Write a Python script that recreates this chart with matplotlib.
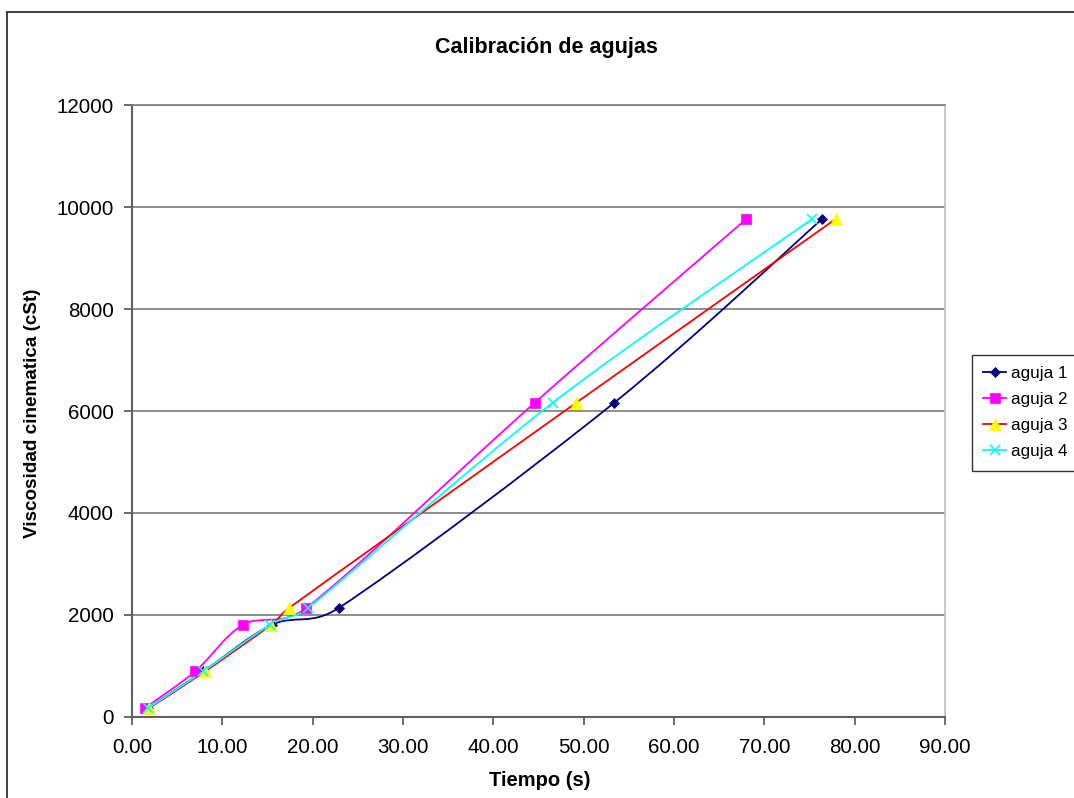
import matplotlib.pyplot as plt
import numpy as np
from matplotlib.path import Path
from matplotlib.patches import PathPatch, Rectangle
from matplotlib.lines import Line2D

plt.rcParams['font.family'] = ['Liberation Sans', 'DejaVu Sans']

# datos
viscosidad = [175, 895, 1810, 2140, 6165, 9765]

t_aguja1 = [1.8, 7.9, 15.5, 22.9, 53.4, 76.4]
t_aguja2 = [1.4, 7.0, 12.3, 19.3, 44.6, 68.0]
t_aguja3 = [1.9, 8.1, 15.4, 17.4, 49.2, 77.9]
t_aguja4 = [1.8, 7.9, 15.3, 19.5, 46.6, 75.3]

etiquetas = ['aguja 1', 'aguja 2', 'aguja 3', 'aguja 4']
colores_linea = ['#000080', '#FF00FF', '#FF0000', '#00FFFF']
colores_marca = ['#000080', '#FF00FF', '#FFFF00', '#00FFFF']
marcas = ['D', 's', '^', 'x']
tam_marca = [5, 6.5, 8, 7]


def smooth_path(ax, x, y):
    # curva suavizada tipo Excel, calculada en pixeles y devuelta a datos
    p = ax.transData.transform(np.column_stack([x, y]).astype(float))
    ext = np.vstack([p[0], p, p[-1]])
    verts = [p[0]]
    codes = [Path.MOVETO]
    for i in range(1, len(ext) - 2):
        p0, p1, p2, p3 = ext[i - 1], ext[i], ext[i + 1], ext[i + 2]
        seg = np.hypot(*(p2 - p1))
        a1 = (p2 - p0) / 6.0
        a2 = (p3 - p1) / 6.0
        for a in (a1, a2):
            n = np.hypot(*a)
            if n > 0.5 * seg:
                a *= 0.5 * seg / n
        verts += [p1 + a1, p2 - a2, p2]
        codes += [Path.CURVE4] * 3
    verts = ax.transData.inverted().transform(np.array(verts))
    return Path(verts, codes)


fig = plt.figure(figsize=(10.74, 7.98), dpi=100)
ax = fig.add_axes([132 / 1074, 1 - 717 / 798, (945 - 132) / 1074, (717 - 105) / 798])
ax.set_xlim(0, 90)
ax.set_ylim(0, 12000)

tiempos = [t_aguja1, t_aguja2, t_aguja3, t_aguja4]
handles = []
for t, lab, cl, cm, m, ms in zip(tiempos, etiquetas, colores_linea, colores_marca, marcas, tam_marca):
    patch = PathPatch(smooth_path(ax, t, viscosidad), fill=False, edgecolor=cl, lw=1.3, zorder=3)
    ax.add_patch(patch)
    mew = 1.2 if m == 'x' else 0.5
    ax.plot(t, viscosidad, linestyle='none', marker=m, color=cm, markersize=ms,
            markeredgecolor=cm, markeredgewidth=mew, zorder=4)
    handles.append(Line2D([], [], color=cl, lw=1.3, marker=m, markerfacecolor=cm,
                          markeredgecolor=cm, markersize=ms, markeredgewidth=mew, label=lab))

ax.set_xticks(np.arange(0, 91, 10))
ax.set_xticklabels(['%.2f' % v for v in np.arange(0, 91, 10)])
ax.set_yticks(np.arange(0, 12001, 2000))
ax.yaxis.grid(True, color='#707070', lw=1.1)
ax.set_axisbelow(True)

ax.tick_params(axis='both', direction='out', length=6, width=1.3, color='#606060',
               labelsize=14.8, colors='black')
ax.tick_params(axis='y', pad=7)
ax.tick_params(axis='x', pad=9)
for s in ['left', 'bottom']:
    ax.spines[s].set_color('#606060')
    ax.spines[s].set_linewidth(1.5)
ax.spines['right'].set_color('#c0c0c0')
ax.spines['right'].set_linewidth(1.2)
ax.spines['top'].set_color('#808080')
ax.spines['top'].set_linewidth(1.2)

fig.text(546.7 / 1074, 1 - 48 / 798, 'Calibración de agujas', ha='center', va='center',
         fontsize=15.5, fontweight='bold')
fig.text(32.5 / 1074, 1 - 413 / 798, 'Viscosidad cinematica (cSt)', ha='center', va='center',
         rotation=90, fontsize=13.6, fontweight='bold')
fig.text(540 / 1074, 1 - 780 / 798, 'Tiempo (s)', ha='center', va='center',
         fontsize=14.5, fontweight='bold')

leg = fig.legend(handles=handles, loc='upper left', bbox_to_anchor=(972 / 1074, 1 - 355 / 798),
                 fontsize=12.3, frameon=True, fancybox=False, edgecolor='black',
                 handlelength=1.35, handletextpad=0.3, borderpad=0.65, labelspacing=0.65,
                 borderaxespad=0)
leg.get_frame().set_linewidth(1.0)

# borde exterior del grafico
fig.patches.append(Rectangle((7 / 1074, -0.1), 1.2, 1 - 12 / 798 + 0.1, transform=fig.transFigure,
                             fill=False, ec='#303030', lw=1.3))

fig.savefig('out.png', dpi=100)
